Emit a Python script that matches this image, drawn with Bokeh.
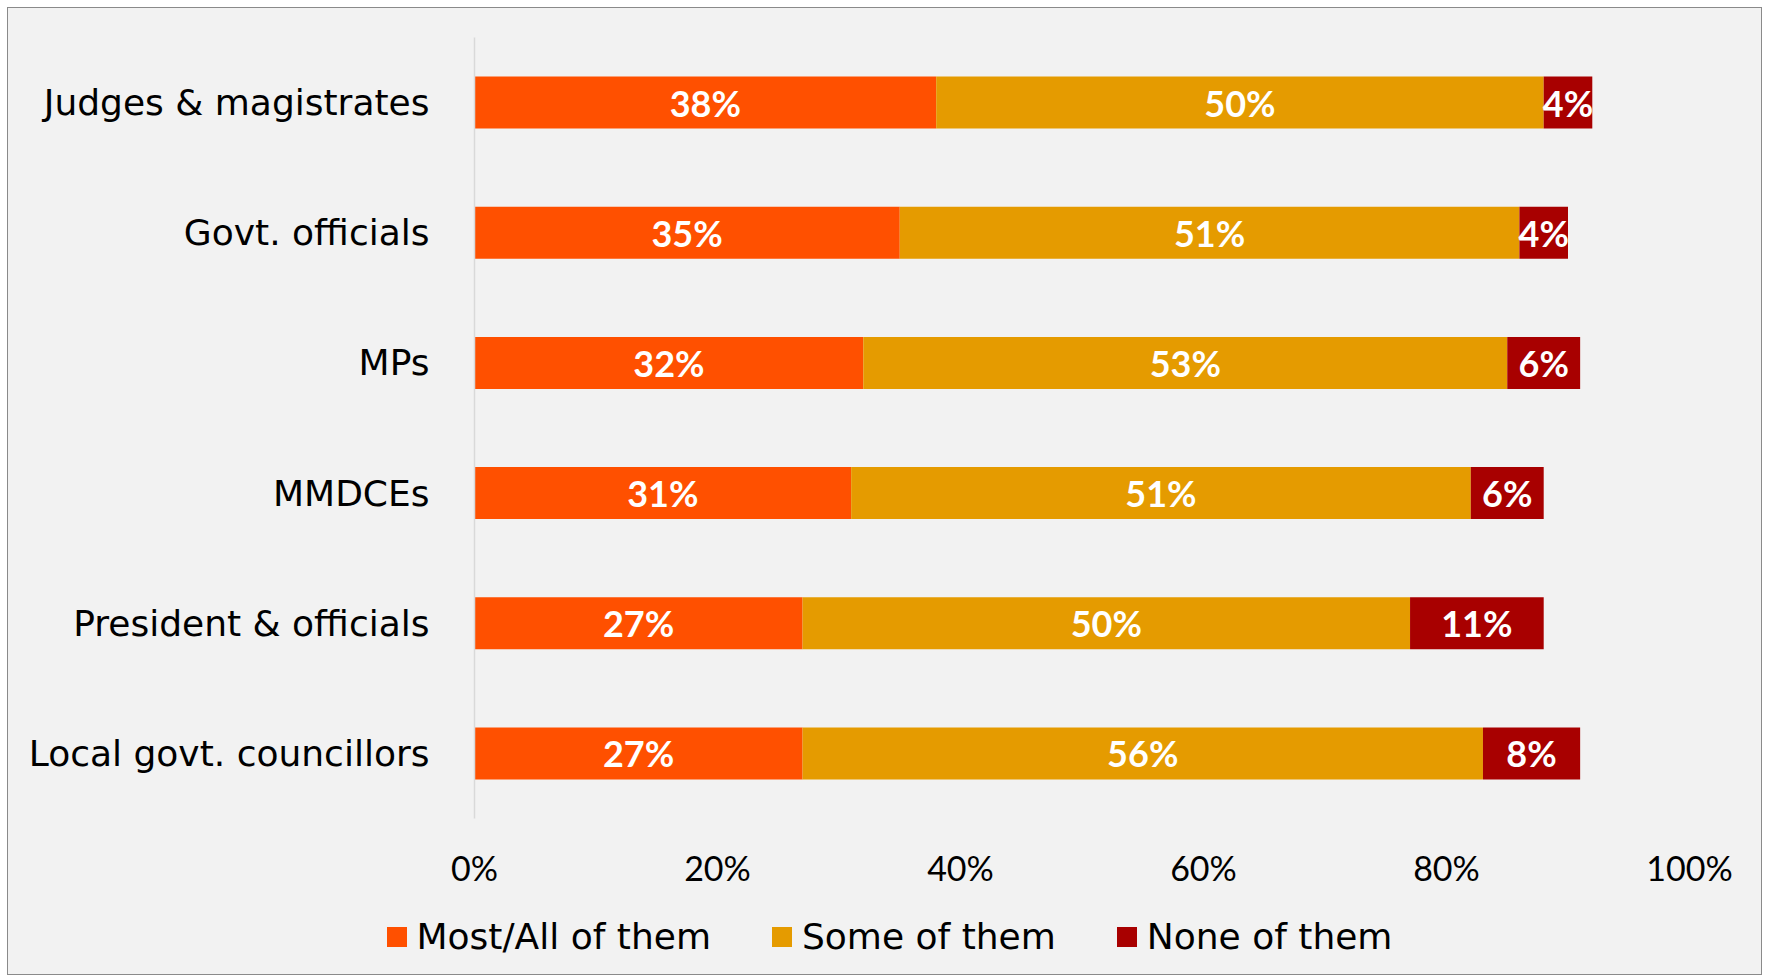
from bokeh.plotting import figure
from bokeh.layouts import column, row
from bokeh.models import FactorRange, Legend, LegendItem, ColumnDataSource, FixedTicker
from bokeh.core.properties import value
from bokeh.embed import file_html
from bokeh.resources import INLINE

# ---- data ----
categories = ["Judges & magistrates", "Govt. officials", "MPs", "MMDCEs",
              "President & officials", "Local govt. councillors"]
most_all = [38, 35, 32, 31, 27, 27]
some = [50, 51, 53, 51, 50, 56]
none = [4, 4, 6, 6, 11, 8]
series_names = ["Most/All of them", "Some of them", "None of them"]
series_colors = ["#FF5000", "#E59B00", "#A80000"]
tick_values = [0, 20, 40, 60, 80, 100]
tick_labels = ["0%", "20%", "40%", "60%", "80%", "100%"]

CAT_FONT = "DejaVu Sans"
NUM_FONT = "Lato"
BG = "#F2F2F2"

W = 1753
H_MAIN = 890
H_LEG = 76

factors = list(reversed(categories))

src = ColumnDataSource(dict(
    cat=categories,
    most=[v / 100 for v in most_all],
    some=[v / 100 for v in some],
    none=[v / 100 for v in none],
))

p = figure(width=W, height=H_MAIN, y_range=FactorRange(factors=factors),
           x_range=(0, 1), output_backend="svg", toolbar_location=None,
           min_border_left=466, min_border_right=72, min_border_top=29,
           min_border_bottom=80)
p.background_fill_color = BG
p.border_fill_color = BG
p.outline_line_color = None

p.hbar_stack(["most", "some", "none"], y="cat", height=0.4,
             color=series_colors, line_color=None, source=src)

# value labels centred in each segment
lx, ly, lt = [], [], []
for i, c in enumerate(categories):
    vals = [most_all[i], some[i], none[i]]
    start = 0
    for v in vals:
        lx.append((start + v / 2) / 100)
        ly.append(c)
        lt.append(f"{v}%")
        start += v
p.text(x=lx, y=ly, text=lt, text_color="white", text_font=value(NUM_FONT),
       text_font_style="bold", text_font_size="36px", text_align="center",
       text_baseline="middle")

# axes
p.xgrid.visible = False
p.ygrid.visible = False
xa = p.xaxis[0]
xa.ticker = FixedTicker(ticks=[v / 100 for v in tick_values])
xa.major_label_overrides = {v / 100: l for v, l in zip(tick_values, tick_labels)}
xa.axis_line_color = None
xa.major_tick_line_color = None
xa.minor_tick_line_color = None
xa.major_tick_out = 0
xa.major_tick_in = 0
xa.major_label_standoff = 28
xa.major_label_text_font = NUM_FONT
xa.major_label_text_font_size = "34px"
xa.major_label_text_color = "#000000"

ya = p.yaxis[0]
ya.axis_line_color = "#D9D9D9"
ya.axis_line_width = 1.5
ya.major_tick_line_color = None
ya.minor_tick_line_color = None
ya.major_tick_out = 0
ya.major_tick_in = 0
ya.major_label_standoff = 45
ya.major_label_text_font = CAT_FONT
ya.major_label_text_font_size = "36px"
ya.major_label_text_color = "#000000"

# ---- legend strip (separate small figure) ----
lg = figure(width=W, height=H_LEG, x_range=(0, 1), y_range=(0, 1),
            x_axis_type=None, y_axis_type=None, output_backend="svg",
            toolbar_location=None, min_border_left=0, min_border_right=0,
            min_border_top=0, min_border_bottom=0)
lg.background_fill_color = BG
lg.border_fill_color = BG
lg.outline_line_color = None
lg.xgrid.visible = False
lg.ygrid.visible = False
# zero-width swatch renderers: only their legend entries show
dummy = [lg.hbar(y=[0.5], left=[0], right=[0], height=0.01, fill_color=c,
                 line_color=None) for c in series_colors]

legend = Legend(items=[LegendItem(label=n, renderers=[r]) for n, r in zip(series_names, dummy)],
                orientation="horizontal", location=(375.5, 17))
legend.background_fill_alpha = 0
legend.border_line_color = None
legend.label_text_font = CAT_FONT
legend.label_text_font_size = "36px"
legend.label_text_color = "#000000"
legend.glyph_width = 25
legend.glyph_height = 25
legend.label_standoff = 8
legend.spacing = 58
legend.padding = 0
legend.margin = 0
lg.add_layout(legend, "center")

layout = column(p, row(lg), spacing=0,
                styles={"border": "1px solid #8A8A8A", "margin": "7px 0 0 7px",
                        "background": BG})

open("out.html", "w").write(file_html(layout, INLINE))
